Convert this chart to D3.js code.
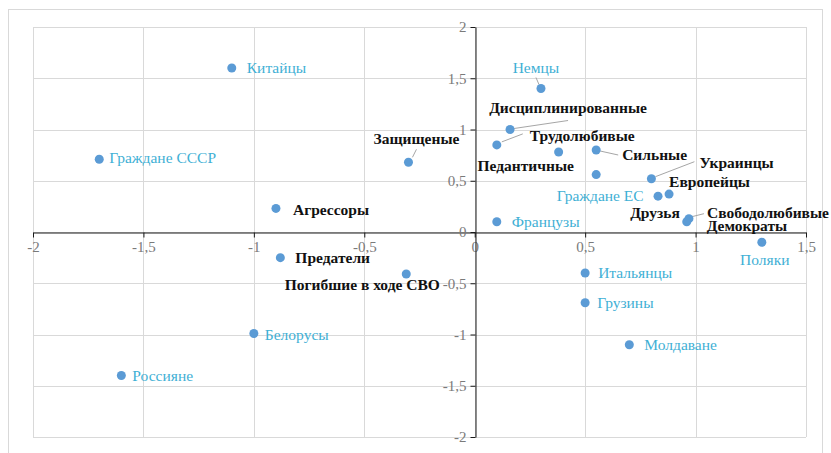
<!DOCTYPE html>
<html>
<head>
<meta charset="utf-8">
<script src="https://cdn.jsdelivr.net/npm/d3@7"></script>
<style>
  body { margin: 0; background: #fff; }
  svg text { font-family: "Liberation Serif", "DejaVu Serif", "Times New Roman", Tinos, serif; }
</style>
</head>
<body>
<div class="scatter"></div>
<script>
// setup chart dimensions
var svgWidth = 831;
var svgHeight = 453;

// plot area inside the outer frame
var margin = { top: 27, right: 25, bottom: 16, left: 33 };
var chartWidth = 806 - margin.left;
var chartHeight = 437 - margin.top;
var serif = '"Liberation Serif", "DejaVu Serif", "Times New Roman", serif';

// data: names, coordinates and label kind
var names = [
  "Китайцы", "Граждане СССР", "Агрессоры", "Предатели", "Погибшие в ходе СВО",
  "Белорусы", "Россияне", "Защищеные", "Немцы", "Дисциплинированные",
  "Трудолюбивые", "Педантичные", "Сильные", "Граждане ЕС", "Украинцы",
  "Друзья", "Европейцы", "Свободолюбивые", "Демократы", "Французы",
  "Итальянцы", "Грузины", "Молдаване", "Поляки"
];
var xValues = [
  -1.1, -1.7, -0.9, -0.88, -0.31,
  -1.0, -1.6, -0.3, 0.3, 0.16,
  0.1, 0.38, 0.55, 0.55, 0.8,
  0.83, 0.88, 0.97, 0.96, 0.1,
  0.5, 0.5, 0.7, 1.3
];
var yValues = [
  1.6, 0.71, 0.23, -0.25, -0.41,
  -0.99, -1.4, 0.68, 1.4, 1.0,
  0.85, 0.78, 0.8, 0.56, 0.52,
  0.35, 0.37, 0.13, 0.1, 0.1,
  -0.4, -0.69, -1.1, -0.1
];
// "c" = country (blue text), "t" = trait (bold black text)
var kinds = [
  "c", "c", "t", "t", "t",
  "c", "c", "t", "c", "t",
  "t", "t", "t", "c", "t",
  "t", "t", "t", "t", "c",
  "c", "c", "c", "c"
];

var xTicks = [-2, -1.5, -1, -0.5, 0, 0.5, 1, 1.5];
var yTicks = [-2, -1.5, -1, -0.5, 0, 0.5, 1, 1.5, 2];

// hand placed labels (pixel offsets from the point), like in the original
var labelPlace = {
  "Китайцы": { dx: 15, dy: 0, anchor: "start" },
  "Граждане СССР": { dx: 10, dy: -2, anchor: "start" },
  "Агрессоры": { dx: 17, dy: 1, anchor: "start" },
  "Предатели": { dx: 15, dy: 0, anchor: "start" },
  "Погибшие в ходе СВО": { dx: -44, dy: 11, anchor: "middle" },
  "Белорусы": { dx: 11, dy: 1, anchor: "start" },
  "Россияне": { dx: 11, dy: 0, anchor: "start" },
  "Защищеные": { dx: 8, dy: -24, anchor: "middle", leader: [4, -5, 8, -13] },
  "Немцы": { dx: -5, dy: -21, anchor: "middle", leader: [-2, -4, -5, -11] },
  "Дисциплинированные": { dx: 58, dy: -22, anchor: "middle", leader: [4, -1, 58, -9] },
  "Трудолюбивые": { dx: 33, dy: -9, anchor: "start", leader: [5, -3, 26, -11] },
  "Педантичные": { dx: -33, dy: 14, anchor: "middle" },
  "Сильные": { dx: 26, dy: 5, anchor: "start", leader: [4, 1, 22, 5] },
  "Граждане ЕС": { dx: 4, dy: 21, anchor: "middle" },
  "Украинцы": { dx: 48, dy: -16, anchor: "start", leader: [4, -2, 43, -17] },
  "Друзья": { dx: -3, dy: 16, anchor: "middle" },
  "Европейцы": { dx: 0, dy: -13, anchor: "start" },
  "Свободолюбивые": { dx: 18, dy: -6, anchor: "start", leader: [3, -2, 15, -5] },
  "Демократы": { dx: 20, dy: 4, anchor: "start" },
  "Французы": { dx: 15, dy: 0, anchor: "start" },
  "Итальянцы": { dx: 13, dy: 0, anchor: "start" },
  "Грузины": { dx: 12, dy: 0, anchor: "start" },
  "Молдаване": { dx: 15, dy: 0, anchor: "start" },
  "Поляки": { dx: 3, dy: 17, anchor: "middle" }
};

var points = names.map(function(n, i) {
  return { name: n, x: xValues[i], y: yValues[i], kind: kinds[i] };
});

var svg = d3.select(".scatter")
  .append("svg")
  .attr("width", svgWidth)
  .attr("height", svgHeight);

// outer frame
svg.append("rect")
  .attr("x", 8.5)
  .attr("y", 9.5)
  .attr("width", 814)
  .attr("height", 450)
  .attr("fill", "none")
  .attr("stroke", "#d9d9d9");

var chartGroup = svg.append("g")
  .attr("transform", `translate(${margin.left}, ${margin.top})`);

var xLinearScale = d3.scaleLinear().domain([-2, 1.5]).range([0, chartWidth]);
var yLinearScale = d3.scaleLinear().domain([-2, 2]).range([chartHeight, 0]);

// gridlines
chartGroup.append("g")
  .selectAll("line")
  .data(xTicks)
  .enter()
  .append("line")
  .attr("x1", d => Math.round(xLinearScale(d)) + 0.5)
  .attr("x2", d => Math.round(xLinearScale(d)) + 0.5)
  .attr("y1", 0)
  .attr("y2", chartHeight)
  .attr("stroke", "#d9d9d9");

chartGroup.append("g")
  .selectAll("line")
  .data(yTicks)
  .enter()
  .append("line")
  .attr("x1", 0)
  .attr("x2", chartWidth)
  .attr("y1", d => Math.round(yLinearScale(d)) + 0.5)
  .attr("y2", d => Math.round(yLinearScale(d)) + 0.5)
  .attr("stroke", "#d9d9d9");

var fmt = d => String(d).replace(".", ",");

// x axis through y = 0
var bottomAxis = d3.axisBottom(xLinearScale)
  .tickValues(xTicks)
  .tickSize(5)
  .tickSizeOuter(0)
  .tickFormat(fmt);

var xAxis = chartGroup.append("g")
  .attr("transform", `translate(0, ${Math.round(yLinearScale(0)) + 0.5})`)
  .call(bottomAxis);

// y axis through x = 0
var leftAxis = d3.axisLeft(yLinearScale)
  .tickValues(yTicks)
  .tickSize(5)
  .tickSizeOuter(0)
  .tickFormat(fmt);

var yAxis = chartGroup.append("g")
  .attr("transform", `translate(${Math.round(xLinearScale(0)) + 0.5}, 0)`)
  .call(leftAxis);

[xAxis, yAxis].forEach(function(ax) {
  ax.attr("font-family", serif);
  ax.select(".domain").attr("stroke", "#1a1a1a");
  ax.selectAll(".tick line").attr("stroke", "#1a1a1a");
  ax.selectAll(".tick text")
    .attr("fill", "#7a7a7a")
    .style("font-family", serif)
    .style("font-size", "15px");
});
xAxis.selectAll(".tick text").attr("y", 9);
yAxis.selectAll(".tick text").attr("x", -9);

// leader lines
chartGroup.append("g")
  .selectAll("line")
  .data(points.filter(d => labelPlace[d.name].leader))
  .enter()
  .append("line")
  .attr("x1", d => xLinearScale(d.x) + labelPlace[d.name].leader[0])
  .attr("y1", d => yLinearScale(d.y) + labelPlace[d.name].leader[1])
  .attr("x2", d => xLinearScale(d.x) + labelPlace[d.name].leader[2])
  .attr("y2", d => yLinearScale(d.y) + labelPlace[d.name].leader[3])
  .attr("stroke", "#a6a6a6")
  .attr("stroke-width", 1);

// points
chartGroup.selectAll("circle")
  .data(points)
  .enter()
  .append("circle")
  .attr("cx", d => xLinearScale(d.x))
  .attr("cy", d => yLinearScale(d.y))
  .attr("r", 4.5)
  .attr("fill", "#5b9bd5");

// labels
chartGroup.append("g")
  .selectAll("text")
  .data(points)
  .enter()
  .append("text")
  .attr("x", d => xLinearScale(d.x) + labelPlace[d.name].dx)
  .attr("y", d => yLinearScale(d.y) + labelPlace[d.name].dy)
  .attr("dy", "0.35em")
  .attr("text-anchor", d => labelPlace[d.name].anchor)
  .attr("fill", d => d.kind === "c" ? "#3fb0d5" : "#111")
  .attr("font-weight", d => d.kind === "c" ? "normal" : "bold")
  .style("font-family", serif)
  .style("font-size", "15.5px")
  .text(d => d.name);
</script>
</body>
</html>
